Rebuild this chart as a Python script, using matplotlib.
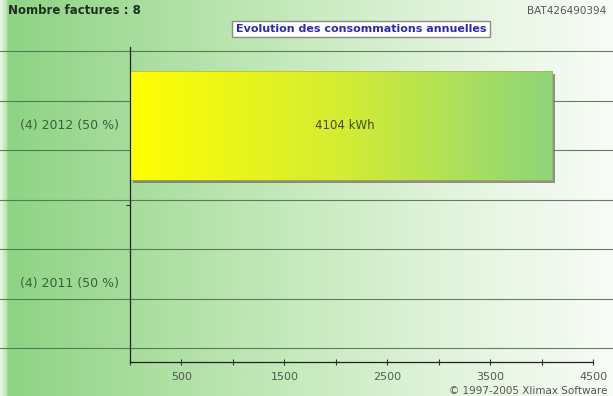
import numpy as np
import matplotlib
matplotlib.use("Agg")
import matplotlib.pyplot as plt
from matplotlib.colors import LinearSegmentedColormap
from matplotlib.transforms import blended_transform_factory, ScaledTranslation

# data
years = ["2011", "2012"]
invoice_counts = [4, 4]
shares = [50, 50]
consumption = [0, 4104]  # kWh, no bar drawn for 2011
total_invoices = 8
x_ticks = [0, 500, 1000, 1500, 2000, 2500, 3000, 3500, 4000, 4500]
x_labels = ["", "500", "", "1500", "", "2500", "", "3500", "", "4500"]

W, H = 613, 396
fig = plt.figure(figsize=(W / 100, H / 100), dpi=100)

# background gradient (green -> white), full figure
bg = fig.add_axes([0, 0, 1, 1])
bg_cmap = LinearSegmentedColormap.from_list(
    "bg", [(0.0, "#e4f3df"), (0.012, "#8ed485"), (0.2, "#a6dc9b"),
           (0.5, "#c8ebbf"), (0.75, "#e3f4de"), (1.0, "#f8fcf6")])
bg.imshow(np.linspace(0, 1, 400)[None, :], aspect="auto", cmap=bg_cmap,
          extent=[0, 1, 0, 1], origin="lower")
# decorative horizontal grid across the whole picture
for ypx in np.arange(51, 360, 49.5):
    bg.axhline(1 - ypx / H, color="#4a6a4a", lw=0.8, alpha=0.85)
bg.set_xlim(0, 1)
bg.set_ylim(0, 1)
bg.set_axis_off()

# main axes
left, right, top, bottom = 130, 593, 47, 362
ax = fig.add_axes([left / W, 1 - bottom / H, (right - left) / W, (bottom - top) / H])
ax.patch.set_alpha(0)

ypos = np.arange(len(years))
bar_h = 0.69
bars = ax.barh(ypos, consumption, height=bar_h, left=0, color="none",
               edgecolor="none")
grad = LinearSegmentedColormap.from_list("bar", ["#ffff00", "#d4ec33", "#8ed67a"])
for rect, y, val in zip(bars, ypos, consumption):
    if val <= 0:
        continue
    x0, y0 = rect.get_x(), rect.get_y()
    w, h = rect.get_width(), rect.get_height()
    shadow = plt.Rectangle((x0, y0), w, h, fc="#6f6f6f", ec="none", alpha=0.75,
                           zorder=1.5)
    ax.add_patch(shadow)
    shadow.set_transform(ax.transData + ScaledTranslation(
        3 / 100, -3 / 100, fig.dpi_scale_trans))
    im = ax.imshow(np.linspace(0, 1, 300)[None, :], aspect="auto", cmap=grad,
                   extent=[x0, x0 + w, y0, y0 + h], zorder=2)
    clip = plt.Rectangle((x0, y0), w, h, fc="none", ec="#b0b040", lw=0.5,
                         zorder=2.1)
    ax.add_patch(clip)
    im.set_clip_path(clip)
    ax.text(val / 2 + 40, y, f"{val} kWh", ha="center", va="center",
            fontsize=8.5, color="#4a4a10", zorder=3)
ax.set_xlim(0, 4500)
ax.set_ylim(-0.5, len(years) - 0.5)

# category labels
tr = blended_transform_factory(fig.transFigure, ax.transData)
for y, n, yr, s in zip(ypos, invoice_counts, years, shares):
    ax.text(69 / W, y, f"({n}) {yr} ({s} %)", transform=tr, ha="center",
            va="center", fontsize=9, color="#3a623a")

ax.set_yticks([0.5])
ax.set_yticklabels([])
ax.tick_params(axis="y", direction="out", length=3, width=0.8, color="#333333")
ax.set_xticks(x_ticks)
ax.set_xticklabels(x_labels)
ax.tick_params(axis="x", direction="inout", length=5, width=0.8, color="#333333",
               labelsize=8, labelcolor="#4f5d4f", pad=5)
for side in ["top", "right"]:
    ax.spines[side].set_visible(False)
for side in ["left", "bottom"]:
    ax.spines[side].set_color("#222222")
    ax.spines[side].set_linewidth(0.9)

# texts
fig.text(8 / W, 1 - 11 / H, f"Nombre factures : {total_invoices}", fontsize=8.5,
         fontweight="bold", color="#1c301c", va="center")
fig.text(527 / W, 1 - 11 / H, "BAT426490394", fontsize=7.5, color="#555555",
         va="center")
fig.text(361 / W, 1 - 29 / H, "Evolution des consommations annuelles", fontsize=8,
         fontweight="bold", color="#2a2ab8", ha="center", va="center",
         bbox=dict(boxstyle="square,pad=0.3", fc="white", ec="#8a8a8a", lw=1.0))
fig.text(449 / W, 1 - 391 / H, "© 1997-2005 Xlimax Software", fontsize=7.5,
         color="#555555", va="center")

fig.savefig("out.png", dpi=100)
